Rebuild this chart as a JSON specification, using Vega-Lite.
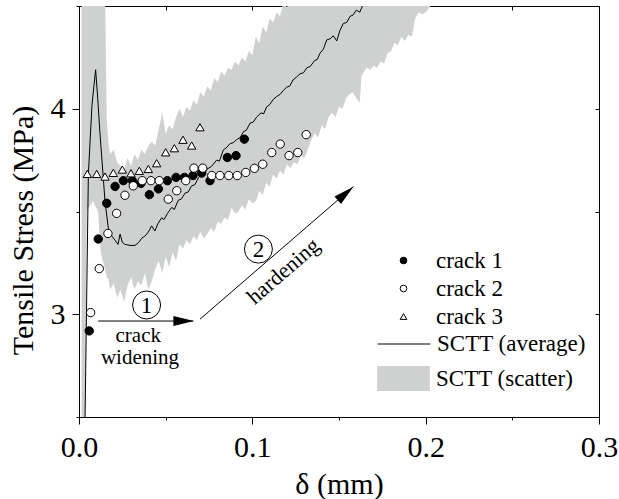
{
  "$schema": "https://vega.github.io/schema/vega-lite/v6.json",
  "width": 520,
  "height": 411,
  "autosize": {"type": "none"},
  "padding": {"left": 79, "top": 6, "right": 20, "bottom": 82},
  "background": "white",
  "config": {
    "font": "Liberation Serif",
    "view": {"stroke": null},
    "axis": {"domainColor": "black", "tickColor": "black", "labelColor": "black", "titleColor": "black", "labelFont": "Liberation Serif", "titleFont": "Liberation Serif", "labelFontSize": 30, "titleFontSize": 30, "titleFontWeight": "normal", "grid": false, "domainWidth": 1, "tickWidth": 1},
    "legend": {"labelFont": "Liberation Serif", "labelFontSize": 23, "labelColor": "black", "padding": 0, "orient": "none", "labelLimit": 0}
  },
  "datasets": {
    "band": [
      {"x": 0.0015, "lo": 2.45, "hi": 4.6}, {"x": 0.0035, "lo": 2.45, "hi": 4.6}, {"x": 0.0045, "lo": 3.5, "hi": 4.6}, {"x": 0.008, "lo": 3.55, "hi": 4.6}, {"x": 0.011, "lo": 3.5, "hi": 4.6}, {"x": 0.0125, "lo": 3.3, "hi": 4.6}, {"x": 0.015, "lo": 3.22, "hi": 4.6}, {"x": 0.016, "lo": 3.18, "hi": 3.95}, {"x": 0.017, "lo": 3.17, "hi": 3.83}, {"x": 0.018, "lo": 3.12, "hi": 3.78},
      {"x": 0.02, "lo": 3.15, "hi": 3.8}, {"x": 0.022, "lo": 3.08, "hi": 3.74}, {"x": 0.024, "lo": 3.12, "hi": 3.72}, {"x": 0.026, "lo": 3.06, "hi": 3.7}, {"x": 0.028, "lo": 3.14, "hi": 3.76}, {"x": 0.03, "lo": 3.18, "hi": 3.72}, {"x": 0.032, "lo": 3.12, "hi": 3.78}, {"x": 0.034, "lo": 3.16, "hi": 3.75}, {"x": 0.036, "lo": 3.14, "hi": 3.8}, {"x": 0.038, "lo": 3.2, "hi": 3.78},
      {"x": 0.04, "lo": 3.12, "hi": 3.82}, {"x": 0.042, "lo": 3.16, "hi": 3.84}, {"x": 0.044, "lo": 3.22, "hi": 3.82}, {"x": 0.046, "lo": 3.26, "hi": 3.9}, {"x": 0.048, "lo": 3.2, "hi": 3.98}, {"x": 0.05, "lo": 3.28, "hi": 3.88}, {"x": 0.052, "lo": 3.23, "hi": 3.92}, {"x": 0.054, "lo": 3.3, "hi": 3.9}, {"x": 0.056, "lo": 3.26, "hi": 3.96}, {"x": 0.058, "lo": 3.34, "hi": 4.0},
      {"x": 0.06, "lo": 3.32, "hi": 3.96}, {"x": 0.062, "lo": 3.36, "hi": 4.01}, {"x": 0.064, "lo": 3.34, "hi": 3.99}, {"x": 0.066, "lo": 3.38, "hi": 4.04}, {"x": 0.068, "lo": 3.36, "hi": 4.02}, {"x": 0.07, "lo": 3.4, "hi": 4.08}, {"x": 0.072, "lo": 3.37, "hi": 4.06}, {"x": 0.074, "lo": 3.39, "hi": 4.11}, {"x": 0.076, "lo": 3.42, "hi": 4.09}, {"x": 0.078, "lo": 3.4, "hi": 4.15},
      {"x": 0.08, "lo": 3.45, "hi": 4.13}, {"x": 0.082, "lo": 3.44, "hi": 4.18}, {"x": 0.084, "lo": 3.47, "hi": 4.16}, {"x": 0.086, "lo": 3.46, "hi": 4.2}, {"x": 0.088, "lo": 3.52, "hi": 4.19}, {"x": 0.09, "lo": 3.49, "hi": 4.23}, {"x": 0.092, "lo": 3.5, "hi": 4.21}, {"x": 0.094, "lo": 3.53, "hi": 4.25}, {"x": 0.096, "lo": 3.51, "hi": 4.23}, {"x": 0.098, "lo": 3.56, "hi": 4.28},
      {"x": 0.1, "lo": 3.54, "hi": 4.26}, {"x": 0.102, "lo": 3.55, "hi": 4.35}, {"x": 0.104, "lo": 3.6, "hi": 4.32}, {"x": 0.106, "lo": 3.58, "hi": 4.4}, {"x": 0.108, "lo": 3.64, "hi": 4.37}, {"x": 0.11, "lo": 3.62, "hi": 4.44}, {"x": 0.112, "lo": 3.68, "hi": 4.42}, {"x": 0.114, "lo": 3.66, "hi": 4.47}, {"x": 0.116, "lo": 3.7, "hi": 4.45}, {"x": 0.118, "lo": 3.68, "hi": 4.52},
      {"x": 0.12, "lo": 3.73, "hi": 4.49}, {"x": 0.122, "lo": 3.71, "hi": 4.6}, {"x": 0.124, "lo": 3.74, "hi": 4.6}, {"x": 0.126, "lo": 3.73, "hi": 4.6}, {"x": 0.128, "lo": 3.77, "hi": 4.6}, {"x": 0.13, "lo": 3.76, "hi": 4.6}, {"x": 0.132, "lo": 3.8, "hi": 4.6}, {"x": 0.134, "lo": 3.85, "hi": 4.6}, {"x": 0.136, "lo": 3.88, "hi": 4.6}, {"x": 0.138, "lo": 3.86, "hi": 4.6},
      {"x": 0.14, "lo": 3.92, "hi": 4.6}, {"x": 0.142, "lo": 3.9, "hi": 4.6}, {"x": 0.144, "lo": 3.96, "hi": 4.6}, {"x": 0.146, "lo": 3.98, "hi": 4.6}, {"x": 0.148, "lo": 3.96, "hi": 4.6}, {"x": 0.15, "lo": 4.01, "hi": 4.6}, {"x": 0.152, "lo": 4.0, "hi": 4.6}, {"x": 0.154, "lo": 4.05, "hi": 4.6}, {"x": 0.156, "lo": 4.07, "hi": 4.6}, {"x": 0.158, "lo": 4.08, "hi": 4.6},
      {"x": 0.16, "lo": 4.05, "hi": 4.6}, {"x": 0.162, "lo": 4.03, "hi": 4.6}, {"x": 0.163, "lo": 4.16, "hi": 4.6}, {"x": 0.166, "lo": 4.2, "hi": 4.6}, {"x": 0.168, "lo": 4.19, "hi": 4.6}, {"x": 0.17, "lo": 4.21, "hi": 4.6}, {"x": 0.172, "lo": 4.2, "hi": 4.6}, {"x": 0.174, "lo": 4.23, "hi": 4.6}, {"x": 0.176, "lo": 4.22, "hi": 4.6}, {"x": 0.178, "lo": 4.27, "hi": 4.6},
      {"x": 0.18, "lo": 4.28, "hi": 4.6}, {"x": 0.182, "lo": 4.32, "hi": 4.6}, {"x": 0.184, "lo": 4.31, "hi": 4.6}, {"x": 0.186, "lo": 4.35, "hi": 4.6}, {"x": 0.188, "lo": 4.33, "hi": 4.6}, {"x": 0.19, "lo": 4.36, "hi": 4.6}, {"x": 0.192, "lo": 4.35, "hi": 4.6}, {"x": 0.194, "lo": 4.44, "hi": 4.6}, {"x": 0.196, "lo": 4.47, "hi": 4.6}, {"x": 0.198, "lo": 4.46, "hi": 4.6},
      {"x": 0.2, "lo": 4.47, "hi": 4.6}, {"x": 0.202, "lo": 4.49, "hi": 4.6}, {"x": 0.204, "lo": 4.52, "hi": 4.6}, {"x": 0.206, "lo": 4.6, "hi": 4.6}
    ],
    "avg": [
      {"x": 0.0035, "y": 2.5}, {"x": 0.0044, "y": 3.06}, {"x": 0.0054, "y": 3.68}, {"x": 0.0075, "y": 4.02}, {"x": 0.0096, "y": 4.19}, {"x": 0.0108, "y": 4.05}, {"x": 0.0121, "y": 3.88}, {"x": 0.015, "y": 3.55}, {"x": 0.0169, "y": 3.42}, {"x": 0.019, "y": 3.38},
      {"x": 0.0208, "y": 3.36}, {"x": 0.0225, "y": 3.34}, {"x": 0.0237, "y": 3.39}, {"x": 0.025, "y": 3.35}, {"x": 0.0265, "y": 3.34}, {"x": 0.0295, "y": 3.335}, {"x": 0.0323, "y": 3.335}, {"x": 0.0345, "y": 3.35}, {"x": 0.0362, "y": 3.37}, {"x": 0.038, "y": 3.38},
      {"x": 0.04, "y": 3.4}, {"x": 0.0419, "y": 3.43}, {"x": 0.0438, "y": 3.405}, {"x": 0.0455, "y": 3.44}, {"x": 0.0477, "y": 3.47}, {"x": 0.049, "y": 3.46}, {"x": 0.051, "y": 3.49}, {"x": 0.0535, "y": 3.52}, {"x": 0.055, "y": 3.51}, {"x": 0.0573, "y": 3.555},
      {"x": 0.059, "y": 3.56}, {"x": 0.0612, "y": 3.59}, {"x": 0.063, "y": 3.595}, {"x": 0.065, "y": 3.625}, {"x": 0.0668, "y": 3.63}, {"x": 0.069, "y": 3.665}, {"x": 0.0708, "y": 3.685}, {"x": 0.0722, "y": 3.68}, {"x": 0.0737, "y": 3.705}, {"x": 0.0765, "y": 3.72},
      {"x": 0.0794, "y": 3.75}, {"x": 0.081, "y": 3.745}, {"x": 0.0833, "y": 3.8}, {"x": 0.085, "y": 3.81}, {"x": 0.0871, "y": 3.83}, {"x": 0.089, "y": 3.835}, {"x": 0.091, "y": 3.85}, {"x": 0.093, "y": 3.86}, {"x": 0.095, "y": 3.89}, {"x": 0.0965, "y": 3.895},
      {"x": 0.0987, "y": 3.93}, {"x": 0.1005, "y": 3.935}, {"x": 0.1025, "y": 3.96}, {"x": 0.105, "y": 3.98}, {"x": 0.1065, "y": 3.975}, {"x": 0.1083, "y": 4.01}, {"x": 0.11, "y": 4.02}, {"x": 0.112, "y": 4.045}, {"x": 0.1141, "y": 4.06}, {"x": 0.116, "y": 4.07},
      {"x": 0.118, "y": 4.09}, {"x": 0.1198, "y": 4.105}, {"x": 0.1215, "y": 4.11}, {"x": 0.1235, "y": 4.14}, {"x": 0.1256, "y": 4.155}, {"x": 0.1275, "y": 4.17}, {"x": 0.1295, "y": 4.175}, {"x": 0.1315, "y": 4.2}, {"x": 0.1333, "y": 4.205}, {"x": 0.136, "y": 4.235},
      {"x": 0.1375, "y": 4.24}, {"x": 0.139, "y": 4.27}, {"x": 0.141, "y": 4.29}, {"x": 0.1429, "y": 4.335}, {"x": 0.1448, "y": 4.34}, {"x": 0.1467, "y": 4.355}, {"x": 0.1487, "y": 4.33}, {"x": 0.1505, "y": 4.38}, {"x": 0.1525, "y": 4.415}, {"x": 0.1545, "y": 4.42},
      {"x": 0.1564, "y": 4.45}, {"x": 0.158, "y": 4.455}, {"x": 0.16, "y": 4.48}, {"x": 0.162, "y": 4.47}, {"x": 0.164, "y": 4.51}
    ],
    "cracks": [
      {"crack": "crack 1", "x": 0.0059, "y": 2.919}, {"crack": "crack 1", "x": 0.0111, "y": 3.366}, {"crack": "crack 1", "x": 0.016, "y": 3.54}, {"crack": "crack 1", "x": 0.0208, "y": 3.622}, {"crack": "crack 1", "x": 0.0256, "y": 3.65}, {"crack": "crack 1", "x": 0.0308, "y": 3.65}, {"crack": "crack 1", "x": 0.0358, "y": 3.637}, {"crack": "crack 1", "x": 0.0406, "y": 3.582}, {"crack": "crack 1", "x": 0.0458, "y": 3.61}, {"crack": "crack 1", "x": 0.051, "y": 3.65}, {"crack": "crack 1", "x": 0.056, "y": 3.666}, {"crack": "crack 1", "x": 0.0608, "y": 3.666}, {"crack": "crack 1", "x": 0.0658, "y": 3.675}, {"crack": "crack 1", "x": 0.0708, "y": 3.687}, {"crack": "crack 1", "x": 0.0756, "y": 3.65}, {"crack": "crack 1", "x": 0.0856, "y": 3.763}, {"crack": "crack 1", "x": 0.0906, "y": 3.772}, {"crack": "crack 1", "x": 0.0954, "y": 3.852},
      {"crack": "crack 2", "x": 0.0067, "y": 3.008}, {"crack": "crack 2", "x": 0.0117, "y": 3.222}, {"crack": "crack 2", "x": 0.0167, "y": 3.393}, {"crack": "crack 2", "x": 0.0217, "y": 3.491}, {"crack": "crack 2", "x": 0.0265, "y": 3.579}, {"crack": "crack 2", "x": 0.0313, "y": 3.625}, {"crack": "crack 2", "x": 0.0365, "y": 3.65}, {"crack": "crack 2", "x": 0.0415, "y": 3.65}, {"crack": "crack 2", "x": 0.0463, "y": 3.65}, {"crack": "crack 2", "x": 0.0515, "y": 3.56}, {"crack": "crack 2", "x": 0.0564, "y": 3.601}, {"crack": "crack 2", "x": 0.0616, "y": 3.65}, {"crack": "crack 2", "x": 0.0663, "y": 3.711}, {"crack": "crack 2", "x": 0.0714, "y": 3.711}, {"crack": "crack 2", "x": 0.0766, "y": 3.675}, {"crack": "crack 2", "x": 0.0813, "y": 3.675}, {"crack": "crack 2", "x": 0.0864, "y": 3.675}, {"crack": "crack 2", "x": 0.0913, "y": 3.675}, {"crack": "crack 2", "x": 0.0962, "y": 3.69}, {"crack": "crack 2", "x": 0.1012, "y": 3.71}, {"crack": "crack 2", "x": 0.106, "y": 3.73}, {"crack": "crack 2", "x": 0.1112, "y": 3.787}, {"crack": "crack 2", "x": 0.1161, "y": 3.828}, {"crack": "crack 2", "x": 0.1212, "y": 3.772}, {"crack": "crack 2", "x": 0.1262, "y": 3.787}, {"crack": "crack 2", "x": 0.1311, "y": 3.874},
      {"crack": "crack 3", "x": 0.0048, "y": 3.683}, {"crack": "crack 3", "x": 0.0102, "y": 3.683}, {"crack": "crack 3", "x": 0.015, "y": 3.67}, {"crack": "crack 3", "x": 0.0198, "y": 3.688}, {"crack": "crack 3", "x": 0.025, "y": 3.704}, {"crack": "crack 3", "x": 0.03, "y": 3.686}, {"crack": "crack 3", "x": 0.0348, "y": 3.698}, {"crack": "crack 3", "x": 0.04, "y": 3.707}, {"crack": "crack 3", "x": 0.0448, "y": 3.735}, {"crack": "crack 3", "x": 0.05, "y": 3.788}, {"crack": "crack 3", "x": 0.055, "y": 3.808}, {"crack": "crack 3", "x": 0.06, "y": 3.849}, {"crack": "crack 3", "x": 0.065, "y": 3.821}, {"crack": "crack 3", "x": 0.0698, "y": 3.91}
    ],
    "arrows": [
      {"x": 0.0111, "y": 2.967, "x2": 0.0659, "y2": 2.967},
      {"x": 0.0698, "y": 2.976, "x2": 0.1583, "y2": 3.621}
    ],
    "head1": [{"x": 0.0604, "y": 2.967}],
    "head2": [{"x": 0.1538, "y": 3.588}],
    "circles": [
      {"x": 0.039, "y": 3.045, "label": "1"},
      {"x": 0.1035, "y": 3.317, "label": "2"}
    ],
    "words": [
      {"x": 0.0342, "y": 2.866, "text": "crack"},
      {"x": 0.0352, "y": 2.756, "text": "widening"}
    ],
    "diag": [{"x": 0.1179, "y": 3.21, "text": "hardening"}]
  },
  "resolve": {"axis": {"x": "independent", "y": "independent"}},
  "layer": [
    {
      "data": {"name": "band"},
      "mark": {"type": "area", "clip": true, "opacity": 1},
      "encoding": {
        "x": {"field": "x", "type": "quantitative", "scale": {"domain": [0, 0.3], "nice": false, "zero": false},
          "axis": {"orient": "bottom", "title": "δ (mm)", "values": [0, 0.1, 0.2, 0.3], "format": ".1f", "tickSize": 7, "labelPadding": 8, "titlePadding": 7, "labelFlush": false, "labelOverlap": false}},
        "y": {"field": "lo", "type": "quantitative", "scale": {"domain": [2.5, 4.5], "nice": false, "zero": false},
          "axis": {"orient": "left", "title": "Tensile Stress (MPa)", "values": [3, 4], "format": "d", "tickSize": 7, "labelPadding": 7, "labelFlush": false, "labelOverlap": false, "titleX": -41, "titleY": 224}},
        "y2": {"field": "hi"},
        "color": {"datum": "SCTT (scatter)", "type": "nominal", "scale": {"range": ["#cfd0d0"]},
          "legend": {"title": null, "legendX": 298, "legendY": 346, "symbolType": "M-1,-0.47L1,-0.47L1,0.47L-1,0.47Z", "symbolSize": 2777, "symbolStrokeWidth": 0, "symbolOpacity": 1, "labelOffset": 6}}
      }
    },
    {
      "data": {"name": "avg"},
      "mark": {"type": "line", "clip": true, "strokeWidth": 1},
      "encoding": {
        "x": {"field": "x", "type": "quantitative", "axis": {"orient": "top", "labels": false, "title": null, "values": [0, 0.05, 0.1, 0.15, 0.2, 0.25, 0.3], "tickSize": -4}},
        "y": {"field": "y", "type": "quantitative", "axis": {"orient": "right", "labels": false, "title": null, "values": [2.5, 3, 3.5, 4, 4.5], "tickSize": -4}},
        "stroke": {"datum": "SCTT (average)", "type": "nominal", "scale": {"range": ["black"]},
          "legend": {"title": null, "legendX": 298, "legendY": 311, "symbolType": "stroke", "symbolSize": 2777, "symbolStrokeWidth": 1, "labelOffset": 6}}
      }
    },
    {
      "data": {"name": "cracks"},
      "mark": {"type": "point", "filled": true, "stroke": "black", "strokeWidth": 1, "size": 70, "opacity": 1},
      "encoding": {
        "x": {"field": "x", "type": "quantitative", "axis": {"orient": "bottom", "labels": false, "title": null, "domain": false, "values": [0.05, 0.15, 0.25], "tickSize": 3}},
        "y": {"field": "y", "type": "quantitative", "axis": {"orient": "left", "labels": false, "title": null, "domain": false, "values": [2.5, 3.5, 4.5], "tickSize": 3}},
        "shape": {"field": "crack", "type": "nominal", "scale": {"domain": ["crack 1", "crack 2", "crack 3"], "range": ["circle", "circle", "triangle-up"]},
          "legend": {"title": null, "legendX": 313, "legendY": 243, "symbolSize": 45, "symbolStrokeWidth": 1, "labelOffset": 21, "rowPadding": 4}},
        "fill": {"field": "crack", "type": "nominal", "scale": {"domain": ["crack 1", "crack 2", "crack 3"], "range": ["black", "white", "white"]},
          "legend": {"title": null, "legendX": 313, "legendY": 243, "symbolSize": 45, "symbolStrokeWidth": 1, "labelOffset": 21, "rowPadding": 4}}
      }
    },
    {
      "data": {"name": "arrows"},
      "mark": {"type": "rule", "color": "black", "strokeWidth": 1},
      "encoding": {
        "x": {"field": "x", "type": "quantitative", "axis": null},
        "y": {"field": "y", "type": "quantitative", "axis": null},
        "x2": {"field": "x2"},
        "y2": {"field": "y2"}
      }
    },
    {
      "data": {"name": "head1"},
      "mark": {"type": "point", "shape": "M-1,-0.48L1,0L-1,0.48Z", "size": 428, "filled": true, "color": "black", "opacity": 1, "angle": 0},
      "encoding": {
        "x": {"field": "x", "type": "quantitative", "axis": null},
        "y": {"field": "y", "type": "quantitative", "axis": null}
      }
    },
    {
      "data": {"name": "head2"},
      "mark": {"type": "point", "shape": "M-1,-0.48L1,0L-1,0.48Z", "size": 428, "filled": true, "color": "black", "opacity": 1, "angle": -40.8},
      "encoding": {
        "x": {"field": "x", "type": "quantitative", "axis": null},
        "y": {"field": "y", "type": "quantitative", "axis": null}
      }
    },
    {
      "data": {"name": "circles"},
      "mark": {"type": "point", "shape": "circle", "size": 784, "filled": false, "stroke": "black", "strokeWidth": 1, "opacity": 1},
      "encoding": {
        "x": {"field": "x", "type": "quantitative", "axis": null},
        "y": {"field": "y", "type": "quantitative", "axis": null}
      }
    },
    {
      "data": {"name": "circles"},
      "mark": {"type": "text", "fontSize": 23, "color": "black", "align": "center", "baseline": "middle", "dy": 1},
      "encoding": {
        "x": {"field": "x", "type": "quantitative", "axis": null},
        "y": {"field": "y", "type": "quantitative", "axis": null},
        "text": {"field": "label"}
      }
    },
    {
      "data": {"name": "words"},
      "mark": {"type": "text", "fontSize": 21, "color": "black", "align": "center", "baseline": "alphabetic"},
      "encoding": {
        "x": {"field": "x", "type": "quantitative", "axis": null},
        "y": {"field": "y", "type": "quantitative", "axis": null},
        "text": {"field": "text"}
      }
    },
    {
      "data": {"name": "diag"},
      "mark": {"type": "text", "fontSize": 22, "color": "black", "align": "center", "baseline": "middle", "angle": -41},
      "encoding": {
        "x": {"field": "x", "type": "quantitative", "axis": null},
        "y": {"field": "y", "type": "quantitative", "axis": null},
        "text": {"field": "text"}
      }
    }
  ]
}
